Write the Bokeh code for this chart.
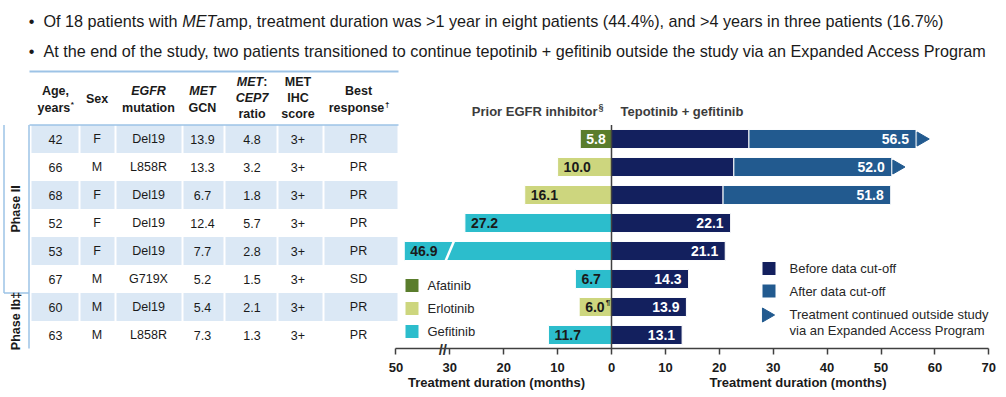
from math import pi
from bokeh.plotting import figure
from bokeh.models import Range1d, LinearAxis, FixedTicker, CustomJSTickFormatter
from bokeh.layouts import column
from bokeh.embed import file_html
from bokeh.resources import INLINE
from bokeh.core.properties import value

FONT_NAME = "Liberation Sans"
FONT = value(FONT_NAME)
INK = "#1a1a1a"
GREY = "#3c3c3c"

# ---------------- data ----------------
ages = ["42", "66", "68", "52", "53", "67", "60", "63"]
sexes = ["F", "M", "F", "F", "F", "M", "M", "M"]
mutations = ["Del19", "L858R", "Del19", "Del19", "Del19", "G719X", "Del19", "L858R"]
met_gcn = ["13.9", "13.3", "6.7", "12.4", "7.7", "5.2", "5.4", "7.3"]
met_cep7 = ["4.8", "3.2", "1.8", "5.7", "2.8", "1.5", "2.1", "1.3"]
ihc_score = ["3+", "3+", "3+", "3+", "3+", "3+", "3+", "3+"]
best_response = ["PR", "PR", "PR", "PR", "PR", "SD", "PR", "PR"]

prior_months = [5.8, 10.0, 16.1, 27.2, 46.9, 6.7, 6.0, 11.7]
prior_drug = ["Afatinib", "Erlotinib", "Erlotinib", "Gefitinib", "Gefitinib", "Gefitinib", "Erlotinib", "Gefitinib"]
prior_note = ["", "", "", "", "", "", "¶", ""]
before_cutoff = [25.5, 22.7, 20.7, 22.1, 21.1, 14.3, 13.9, 13.1]
total_months = [56.5, 52.0, 51.8, 22.1, 21.1, 14.3, 13.9, 13.1]
continued_eap = [True, True, False, False, False, False, False, False]

drugs = ["Afatinib", "Erlotinib", "Gefitinib"]
drug_colors = {"Afatinib": "#5a7d2c", "Erlotinib": "#cdd67e", "Gefitinib": "#2cbdcc"}
BEFORE_C = "#13205e"
AFTER_C = "#225a8f"

left_ticks = [50, 30, 20, 10]
right_ticks = [0, 10, 20, 30, 40, 50, 60, 70]
BREAK = 30
BREAK_K = 0.5


def disp(v):
    return v if v <= BREAK else BREAK + (v - BREAK) * BREAK_K


rows = list(range(1, len(ages) + 1))

W = 1006
H = 397
TOP_H = 68
MAIN_H = H - TOP_H
AXIS_Y = 348

# ---------------- top bullets ----------------
top = figure(width=W, height=TOP_H, x_range=Range1d(0, W), y_range=Range1d(TOP_H, 0),
             toolbar_location=None, output_backend="svg", x_axis_location=None,
             y_axis_location=None, min_border=0, outline_line_color=None)
top.grid.visible = False
FS = 16.2
tstyle = dict(text_font=FONT, text_font_size=f"{FS}px", text_color=INK,
              text_baseline="alphabetic", text_align="left")
top.text(x=[31, 31], y=[20.5, 50.5], text=["•", "•"], **{**tstyle, "text_align": "center"})
X0 = 43
top.text(x=[X0], y=[20.5], text=["Of 18 patients with"], **tstyle)
top.text(x=[X0 + 8.560 * FS], y=[20.5], text=["MET"], text_font_style="italic", **tstyle)
top.text(x=[X0 + 10.671 * FS], y=[20.5],
         text=["amp, treatment duration was >1 year in eight patients (44.4%), and >4 years in three patients (16.7%)"],
         **tstyle)
top.text(x=[X0], y=[50.5],
         text=["At the end of the study, two patients transitioned to continue tepotinib + gefitinib outside the study via an Expanded Access Program"],
         **tstyle)

# ---------------- main figure ----------------
ZERO_X = 611
PXM = 5.39
ROW1_Y = 138.5
ROW_PX = 28.0


def row_at(y_img):
    return 1 + (y_img - ROW1_Y) / ROW_PX


p = figure(width=W, height=MAIN_H, x_range=Range1d(0, W), y_range=Range1d(H, TOP_H),
           toolbar_location=None, output_backend="svg", x_axis_location=None,
           y_axis_location=None, min_border=0, outline_line_color=None)
p.grid.visible = False
p.extra_x_ranges = {"m": Range1d((0 - ZERO_X) / PXM, (W - ZERO_X) / PXM)}
p.extra_y_ranges = {"rows": Range1d(row_at(H), row_at(TOP_H))}
ROW_AXIS = row_at(AXIS_Y)

# ---- table ----
col_bounds = [30, 79, 115, 182, 224, 277, 323, 398]
col_centers = [55, 96.5, 148, 202, 251.5, 297.5, 358]
SHADE = "#dbe8f5"
TLINE = "#9dc3e6"
shaded = [r for r in rows if r % 2 == 1]
ql, qr, qt, qb = [], [], [], []
for r in shaded:
    for j in range(len(col_centers)):
        ql.append(col_bounds[j] + 1)
        qr.append(col_bounds[j + 1] - 1)
        qt.append(r - 0.5)
        qb.append(r + 0.5)
p.quad(left=ql, right=qr, top=qt, bottom=qb, fill_color=SHADE, line_color=None,
       y_range_name="rows")

p.segment(x0=[29], y0=[71], x1=[398], y1=[71], line_color=TLINE, line_width=2)
p.segment(x0=[29], y0=[0.5], x1=[398], y1=[0.5], line_color=TLINE, line_width=1.5,
          y_range_name="rows")
p.segment(x0=[28.5, 3.5, 3.5], y0=[0.5, 0.5, 6.5], x1=[28.5, 3.5, 28.5],
          y1=[ROW_AXIS, 6.5, 6.5], line_color=TLINE, line_width=1.5, y_range_name="rows")

cell_style = dict(text_font=FONT, text_font_size="12.5px", text_color=INK,
                  text_align="center", text_baseline="middle", y_range_name="rows")
for cx, col in zip(col_centers, [ages, sexes, mutations, met_gcn, met_cep7, ihc_score, best_response]):
    p.text(x=[cx] * len(col), y=rows, text=col, **cell_style)

hstyle = dict(text_font=FONT, text_font_size="12.5px", text_color=INK,
              text_baseline="middle", text_font_style="bold")
L1, L2 = 90, 107.5
M1, M2, M3 = 81.7, 97.5, 113.5
p.text(x=[55, 96.5, 148, 202, 358, 297.5, 297.5, 297.5, 251.5],
       y=[L1, 98.5, L2, L2, L1, M1, M2, M3, M3],
       text=["Age,", "Sex", "mutation", "GCN", "Best", "MET", "IHC", "score", "ratio"],
       text_align="center", **hstyle)
p.text(x=[148, 202, 251.5], y=[L1, L1, M2], text=["EGFR", "MET", "CEP7"],
       text_align="center", **{**hstyle, "text_font_style": "bold italic"})
p.text(x=[262.6], y=[M1], text=["MET"], text_align="right",
       **{**hstyle, "text_font_style": "bold italic"})
p.text(x=[262.8], y=[M1], text=[":"], text_align="left", **hstyle)
p.text(x=[69.7, 383.8], y=[L2, L2], text=["years", "response"], text_align="right", **hstyle)
p.text(x=[70.2, 384.4], y=[104, 104], text=["*", "†"], text_align="left",
       **{**hstyle, "text_font_size": "8px"})

p.text(x=[15, 15], y=[3.5, 7.5], text=["Phase II", "Phase Ib‡"], angle=pi / 2,
       text_align="center", y_range_name="rows", **hstyle)

# ---- bars ----
BAR_H = 0.68
bar_common = dict(x_range_name="m", y_range_name="rows", height=BAR_H,
                  line_color="white", line_width=1)
for d in drugs:
    idx = [i for i, dd in enumerate(prior_drug) if dd == d]
    p.hbar(y=[rows[i] for i in idx], left=[-disp(prior_months[i]) for i in idx],
           right=[0] * len(idx), fill_color=drug_colors[d], **bar_common)
p.hbar(y=rows, left=[0] * len(rows), right=before_cutoff, fill_color=BEFORE_C, **bar_common)
aidx = [i for i in range(len(rows)) if total_months[i] > before_cutoff[i]]
p.hbar(y=[rows[i] for i in aidx], left=[before_cutoff[i] for i in aidx],
       right=[total_months[i] for i in aidx], fill_color=AFTER_C, **bar_common)

bidx = [i for i in range(len(rows)) if prior_months[i] > BREAK]
p.segment(x0=[-(BREAK + 0.75)] * len(bidx), y0=[rows[i] + BAR_H / 2 for i in bidx],
          x1=[-(BREAK - 0.75)] * len(bidx), y1=[rows[i] - BAR_H / 2 for i in bidx],
          line_color="white", line_width=2.5, x_range_name="m", y_range_name="rows")

p.segment(x0=[0], y0=[0.5], x1=[0], y1=[ROW_AXIS], line_color="#404040", line_width=1.5,
          x_range_name="m", y_range_name="rows")

eidx = [i for i in range(len(rows)) if continued_eap[i]]
p.scatter(x=[total_months[i] + 0.95 for i in eidx], y=[rows[i] for i in eidx],
          marker="triangle", angle=-pi / 2, size=14, fill_color=AFTER_C, line_color=AFTER_C,
          x_range_name="m", y_range_name="rows")

vstyle = dict(text_font=FONT, text_font_size="14px", text_font_style="bold",
              text_baseline="middle", x_range_name="m", y_range_name="rows")
p.text(x=[-disp(v) for v in prior_months], y=rows, text=[f"{v:.1f}" for v in prior_months],
       text_align="left", x_offset=6,
       text_color=["white" if d == "Afatinib" else INK for d in prior_drug], **vstyle)
nidx = [i for i in range(len(rows)) if prior_note[i]]
p.text(x=[-disp(prior_months[i]) for i in nidx], y=[rows[i] - 0.15 for i in nidx],
       text=[prior_note[i] for i in nidx], text_align="left", x_offset=26.5,
       text_color=INK, **{**vstyle, "text_font_size": "8px"})
p.text(x=total_months, y=rows, text=[f"{v:.1f}" for v in total_months],
       text_align="right", x_offset=-7, text_color="white", **vstyle)

p.text(x=[597], y=[110.5], text=["Prior EGFR inhibitor"], text_align="right",
       text_font=FONT, text_font_size="13px", text_font_style="bold", text_color=GREY,
       text_baseline="middle")
p.text(x=[598], y=[106.5], text=["§"], text_align="left",
       text_font=FONT, text_font_size="9px", text_font_style="bold", text_color=GREY,
       text_baseline="middle")
p.text(x=[620], y=[110.5], text=["Tepotinib + gefitinib"], text_align="left",
       text_font=FONT, text_font_size="13px", text_font_style="bold", text_color=GREY,
       text_baseline="middle")

# ---- legends ----
lstyle = dict(text_font=FONT, text_font_size="13px", text_color="#262626",
              text_baseline="middle", text_align="left")
ly = [285, 308, 331]
p.scatter(x=[411.5] * 3, y=ly, marker="square", size=13,
          fill_color=[drug_colors[d] for d in drugs], line_color=None)
p.text(x=[427] * 3, y=ly, text=drugs, **lstyle)

p.scatter(x=[768.5, 768.5], y=[268, 290.5], marker="square", size=13,
          fill_color=[BEFORE_C, AFTER_C], line_color=None)
p.scatter(x=[766], y=[314.5], marker="triangle", angle=-pi / 2, size=14,
          fill_color=AFTER_C, line_color=AFTER_C)
p.text(x=[789] * 4, y=[268, 290.5, 313.5, 329.5],
       text=["Before data cut-off", "After data cut-off", "Treatment continued outside study",
             "via an Expanded Access Program"], **lstyle)

# ---- axis (placed at a fixed location inside the frame) ----
ax = LinearAxis(x_range_name="m", fixed_location=AXIS_Y,
                ticker=FixedTicker(ticks=[-disp(t) for t in left_ticks] + right_ticks),
                bounds=(-disp(max(left_ticks)), max(right_ticks)),
                formatter=CustomJSTickFormatter(args=dict(brk=BREAK, k=BREAK_K), code="""
                    if (tick >= 0) { return String(Math.round(tick)); }
                    const a = -tick;
                    const v = a > brk ? brk + (a - brk) / k : a;
                    return String(Math.round(v));
                """))
ax.axis_line_color = "#404040"
ax.axis_line_width = 1.5
ax.major_tick_line_color = "#404040"
ax.major_tick_line_width = 1.5
ax.major_tick_out = 6
ax.major_tick_in = 0
ax.minor_tick_out = 0
ax.minor_tick_in = 0
ax.major_label_standoff = 8
ax.major_label_text_font = FONT_NAME
ax.major_label_text_font_size = "13px"
ax.major_label_text_font_style = "bold"
ax.major_label_text_color = INK
p.add_layout(ax, "below")

# axis titles and break mark
p.text(x=[(496 - ZERO_X) / PXM, (797.5 - ZERO_X) / PXM], y=[382, 382],
       text=["Treatment duration (months)", "Treatment duration (months)"],
       text_align="center", text_baseline="middle", text_font=FONT, text_font_size="13px",
       text_font_style="bold", text_color=INK, x_range_name="m")
p.text(x=[-(BREAK + 1.3)], y=[AXIS_Y + 0.5], text=["//"], text_align="center",
       text_baseline="middle", text_font=FONT, text_font_size="15px", text_font_style="bold",
       text_color="#303030", x_range_name="m")

layout = column(top, p, spacing=0)
open("out.html", "w").write(file_html(layout, INLINE))
